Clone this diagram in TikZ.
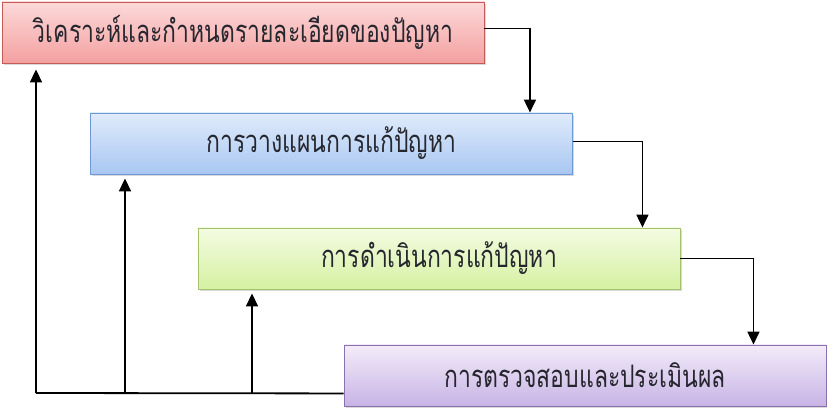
\documentclass[tikz,border=0pt]{standalone}
\usepackage{fontspec}
\newfontfamily\thaifont[Script=Thai,FakeStretch=0.74]{Loma}
\usetikzlibrary{arrows.meta,shadows,calc}
\definecolor{txt}{HTML}{26262E}
\definecolor{redTop}{HTML}{FCD9D9}
\definecolor{redBot}{HTML}{F4A0A0}
\definecolor{redLine}{HTML}{C55A57}
\definecolor{blueTop}{HTML}{E0EBFB}
\definecolor{blueBot}{HTML}{A8C7F1}
\definecolor{blueLine}{HTML}{6E98D3}
\definecolor{greenTop}{HTML}{F4FBE2}
\definecolor{greenBot}{HTML}{D5F1A2}
\definecolor{greenLine}{HTML}{A3C46A}
\definecolor{purpleTop}{HTML}{F3ECF9}
\definecolor{purpleBot}{HTML}{C7B3E5}
\definecolor{purpleLine}{HTML}{8A70AE}
\tikzset{
  stepbox/.style={draw, line width=0.9pt, minimum width=482pt, minimum height=61pt,
    inner sep=0pt, text=txt, font=\thaifont\fontsize{31}{35}\selectfont,
    drop shadow={shadow xshift=1.5pt, shadow yshift=-2pt, opacity=0.3, fill=black!50}},
  redbox/.style={stepbox, draw=redLine, top color=redTop, bottom color=redBot},
  bluebox/.style={stepbox, draw=blueLine, top color=blueTop, bottom color=blueBot},
  greenbox/.style={stepbox, draw=greenLine, top color=greenTop, bottom color=greenBot},
  purplebox/.style={stepbox, draw=purpleLine, top color=purpleTop, bottom color=purpleBot},
  conn/.style={line width=1.8pt, black},
  arr/.style={conn, -{Triangle[length=13pt,width=12pt]}}
}
\begin{document}
\begin{tikzpicture}[x=1pt,y=-1pt]
\useasboundingbox (0,0) rectangle (827,411);
\node[redbox]    (b1) at (243,32.5)  {วิเคราะห์และกำหนดรายละเอียดของปัญหา};
\node[bluebox]   (b2) at (331.5,143.5) {การวางแผนการแก้ปัญหา};
\node[greenbox]  (b3) at (439,258.5) {การดำเนินการแก้ปัญหา};
\node[purplebox] (b4) at (585,375.5) {การตรวจสอบและประเมินผล};
% forward connectors
\draw[arr] ([yshift=4pt]b1.east) -| ([xshift=-43pt]b2.north east);
\draw[arr] ([yshift=2pt]b2.east) -| ([xshift=-38pt]b3.north east);
\draw[arr] (b3.east) -| ([xshift=-73pt]b4.north east);
% feedback
\coordinate (fb) at (36,393);
\coordinate (f2) at (125,393);
\coordinate (f3) at (252,393);
\draw[conn] ([yshift=13pt]b4.south west) -- (fb);
\draw[arr] (fb) -- ([yshift=-6pt]fb |- b1.south);
\draw[arr] (f2) -- ([yshift=-4pt]f2 |- b2.south);
\draw[arr] (f3) -- ([yshift=-4pt]f3 |- b3.south);
\end{tikzpicture}
\end{document}
